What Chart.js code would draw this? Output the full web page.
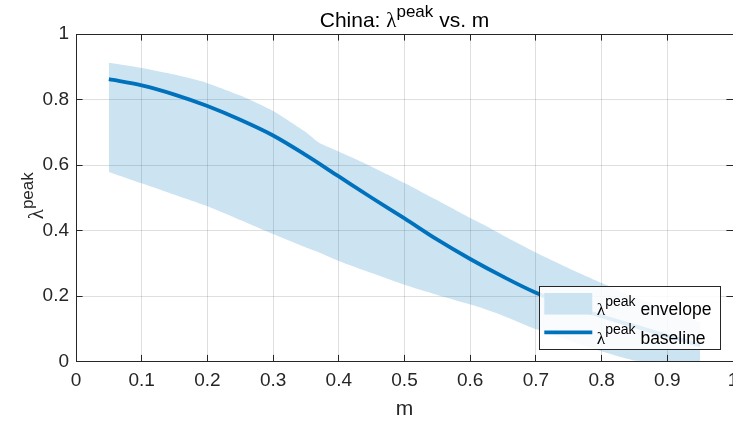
<!DOCTYPE html>
<html>
<head>
<meta charset="utf-8">
<script src="https://cdn.jsdelivr.net/npm/chart.js@4.4.0/dist/chart.umd.min.js"></script>
<style>
  html, body { margin: 0; padding: 0; background: #ffffff; }
  #wrap { width: 733px; height: 422px; }
</style>
</head>
<body>
<div id="wrap"><canvas id="c" width="733" height="422"></canvas></div>
<script>
// ---- data ----
const envM     = [0.05, 0.10, 0.15, 0.20, 0.25, 0.30, 0.35, 0.37, 0.40, 0.45, 0.50, 0.55, 0.60, 0.62, 0.65, 0.70, 0.75, 0.80, 0.85, 0.90, 0.95];
const envUpper = [0.912, 0.896, 0.876, 0.850, 0.812, 0.765, 0.700, 0.668, 0.641, 0.595, 0.545, 0.492, 0.438, 0.418, 0.385, 0.333, 0.285, 0.240, 0.198, 0.158, 0.120];
const envLower = [0.579, 0.544, 0.509, 0.474, 0.432, 0.389, 0.348, 0.333, 0.307, 0.270, 0.234, 0.203, 0.174, 0.162, 0.140, 0.099, 0.064, 0.031, 0.003, 0.000, 0.000];

const baseM    = [0.05, 0.10, 0.15, 0.20, 0.25, 0.30, 0.35, 0.40, 0.45, 0.50, 0.55, 0.60, 0.65, 0.70, 0.75, 0.80, 0.85, 0.90, 0.95];
const baseVals = [0.862, 0.843, 0.815, 0.780, 0.738, 0.690, 0.630, 0.565, 0.500, 0.437, 0.372, 0.313, 0.259, 0.210, 0.172, 0.138, 0.108, 0.078, 0.050];

const xTickLabels = ['0', '0.1', '0.2', '0.3', '0.4', '0.5', '0.6', '0.7', '0.8', '0.9', '1'];
const yTickLabels = ['0', '0.2', '0.4', '0.6', '0.8', '1'];

const titleParts  = ['China: ', 'λ', 'peak', ' vs. m'];
const xAxisTitle  = 'm';
const yAxisParts  = ['λ', 'peak'];
const legendNames = ['envelope', 'baseline'];

// ---- styling ----
const FAM = '"Liberation Sans", Arial, Helvetica, sans-serif';
const SYM = '"Liberation Serif", "DejaVu Serif", serif';
const AXIS = '#262626';
const BLUE = '#0072BD';
const BAND = 'rgba(0,114,189,0.2)';
const BAND_SOLID = 'rgb(204,227,242)';
const TICK_LEN = 6.6;

const toPts = (xs, ys) => xs.map((x, i) => ({ x: x, y: ys[i] }));
const align = p => Math.round(p - 0.5) + 0.5;

// draws a run of text pieces left to right, each with its own font and baseline raise
function drawRich(ctx, parts, x, y, color) {
  ctx.save();
  ctx.fillStyle = color;
  ctx.textBaseline = 'alphabetic';
  ctx.textAlign = 'left';
  let cx = x;
  for (const p of parts) {
    ctx.font = p.f;
    ctx.fillText(p.t, cx, y - (p.r || 0));
    cx += ctx.measureText(p.t).width;
  }
  ctx.restore();
}
function richWidth(ctx, parts) {
  let w = 0;
  ctx.save();
  for (const p of parts) { ctx.font = p.f; w += ctx.measureText(p.t).width; }
  ctx.restore();
  return w;
}

const decorPlugin = {
  id: 'decor',
  afterDraw(chart) {
    const ctx = chart.ctx;
    const ca = chart.chartArea;
    const xs = chart.scales.x, ys = chart.scales.y;

    // inward tick marks on all four sides, plus the top box edge
    ctx.save();
    ctx.strokeStyle = AXIS;
    ctx.lineWidth = 1;
    ctx.beginPath();
    xs.ticks.forEach(t => {
      const px = align(xs.getPixelForValue(t.value));
      ctx.moveTo(px, ca.bottom); ctx.lineTo(px, ca.bottom - TICK_LEN);
      ctx.moveTo(px, ca.top);    ctx.lineTo(px, ca.top + TICK_LEN);
    });
    ys.ticks.forEach(t => {
      const py = align(ys.getPixelForValue(t.value));
      ctx.moveTo(ca.left, py);  ctx.lineTo(ca.left + TICK_LEN, py);
      ctx.moveTo(ca.right, py); ctx.lineTo(ca.right - TICK_LEN, py);
    });
    const ty = align(ca.top);
    ctx.moveTo(ca.left, ty); ctx.lineTo(ca.right, ty);
    ctx.stroke();
    ctx.restore();

    // title
    const tParts = [
      { t: titleParts[0], f: `21px ${FAM}` },
      { t: titleParts[1], f: `21px ${SYM}` },
      { t: titleParts[2], f: `17px ${FAM}`, r: 10 },
      { t: titleParts[3], f: `21px ${FAM}` }
    ];
    const tw = richWidth(ctx, tParts);
    drawRich(ctx, tParts, (ca.left + ca.right) / 2 - tw / 2, 27, '#000000');

    // y-axis label, rotated
    const yParts = [
      { t: yAxisParts[0], f: `21px ${SYM}` },
      { t: yAxisParts[1], f: `17px ${FAM}`, r: 10 }
    ];
    const yw = richWidth(ctx, yParts);
    ctx.save();
    ctx.translate(43, (ca.top + ca.bottom) / 2 - 2);
    ctx.rotate(-Math.PI / 2);
    drawRich(ctx, yParts, -yw / 2, 0, AXIS);
    ctx.restore();

    // legend box (southeast)
    const lw = 181, lh = 63;
    const lx = ca.right - 13 - lw;
    const ly = ca.bottom - 12.5 - lh;
    ctx.save();
    ctx.fillStyle = 'rgba(255,255,255,0.88)';
    ctx.fillRect(lx, ly, lw, lh);
    ctx.strokeStyle = AXIS;
    ctx.lineWidth = 1;
    ctx.strokeRect(align(lx), align(ly), Math.round(lw), Math.round(lh));
    // envelope swatch
    ctx.fillStyle = BAND_SOLID;
    ctx.fillRect(lx + 5.3, ly + 7, 48, 21.6);
    // baseline swatch
    ctx.strokeStyle = BLUE;
    ctx.lineWidth = 3.8;
    ctx.beginPath();
    ctx.moveTo(lx + 5.3, ly + 46.3);
    ctx.lineTo(lx + 53.3, ly + 46.3);
    ctx.stroke();
    ctx.restore();
    const rows = [ly + 29, ly + 57.5];
    legendNames.forEach((name, i) => {
      drawRich(ctx, [
        { t: 'λ', f: `17.5px ${SYM}` },
        { t: 'peak', f: `14px ${FAM}`, r: 9.5 },
        { t: ' ' + name, f: `17.5px ${FAM}` }
      ], lx + 57.7, rows[i], '#000000');
    });
  }
};

new Chart(document.getElementById('c'), {
  type: 'line',
  data: {
    datasets: [
      {
        label: 'baseline',
        data: toPts(baseM, baseVals),
        borderColor: BLUE,
        borderWidth: 3.8,
        pointRadius: 0,
        cubicInterpolationMode: 'monotone',
        fill: false,
        order: 0
      },
      {
        label: 'envelope upper',
        data: toPts(envM, envUpper),
        borderColor: 'transparent',
        borderWidth: 0,
        pointRadius: 0,
        tension: 0.2,
        backgroundColor: BAND,
        fill: '+1',
        order: 1
      },
      {
        label: 'envelope lower',
        data: toPts(envM, envLower),
        borderColor: 'transparent',
        borderWidth: 0,
        pointRadius: 0,
        tension: 0.2,
        fill: false,
        order: 2
      }
    ]
  },
  options: {
    responsive: false,
    animation: false,
    devicePixelRatio: 1,
    layout: { padding: { top: 34, right: 0, bottom: 0, left: 0 } },
    plugins: {
      legend: { display: false },
      title: { display: false },
      tooltip: { enabled: false }
    },
    scales: {
      x: {
        type: 'linear',
        min: 0, max: 1,
        ticks: {
          stepSize: 0.1,
          autoSkip: false,
          maxRotation: 0,
          padding: 8,
          color: AXIS,
          font: { family: FAM, size: 19 },
          callback: (v, i) => xTickLabels[i]
        },
        grid: { color: 'rgba(38,38,38,0.15)', lineWidth: 1, drawTicks: false },
        border: { display: true, color: AXIS, width: 1 },
        title: {
          display: true, text: xAxisTitle, color: AXIS,
          font: { family: FAM, size: 21 }, padding: { top: 0, bottom: 0 }
        },
        afterFit: s => { s.height = 60.5; s.paddingLeft = 0; s.paddingRight = 0; }
      },
      y: {
        type: 'linear',
        min: 0, max: 1,
        ticks: {
          stepSize: 0.2,
          padding: 7,
          color: AXIS,
          font: { family: FAM, size: 19 },
          callback: (v, i) => yTickLabels[i]
        },
        grid: { color: 'rgba(38,38,38,0.15)', lineWidth: 1, drawTicks: false },
        border: { display: true, color: AXIS, width: 1 },
        afterFit: s => { s.width = 76; s.paddingTop = 0; s.paddingBottom = 0; }
      }
    }
  },
  plugins: [decorPlugin]
});
</script>
</body>
</html>
